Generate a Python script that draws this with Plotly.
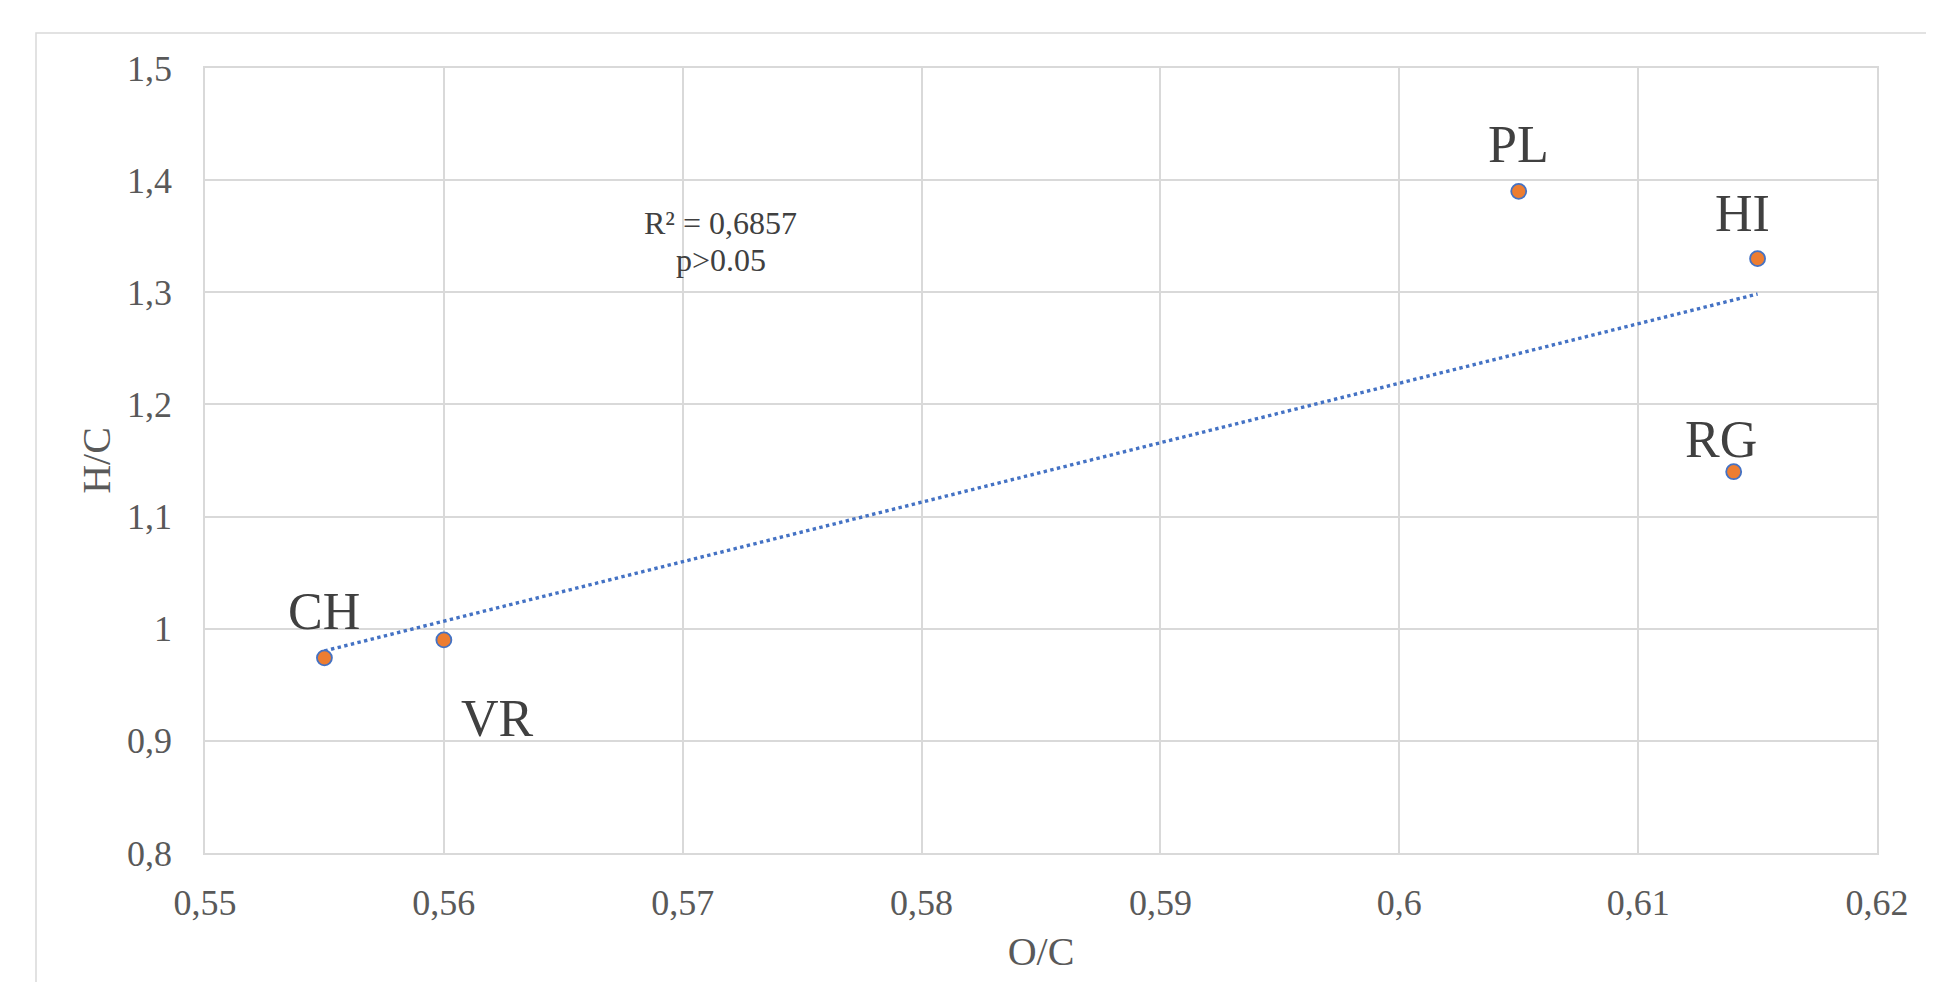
import numpy as np
import plotly.graph_objects as go

sites = ["CH", "VR", "PL", "HI", "RG"]
o_c = [0.555, 0.560, 0.605, 0.615, 0.614]
h_c = [0.974, 0.990, 1.390, 1.330, 1.140]

x_ticks = [0.55, 0.56, 0.57, 0.58, 0.59, 0.60, 0.61, 0.62]
x_tick_text = ["0,55", "0,56", "0,57", "0,58", "0,59", "0,6", "0,61", "0,62"]
y_ticks = [0.8, 0.9, 1.0, 1.1, 1.2, 1.3, 1.4, 1.5]
y_tick_text = ["0,8", "0,9", "1", "1,1", "1,2", "1,3", "1,4", "1,5"]

r2_text = "R² = 0,6857"
p_text = "p&gt;0.05"

# label offsets in pixels (xshift, yshift)
label_shift = {"CH": (0, 46), "VR": (54, -79), "PL": (0, 47), "HI": (-15, 45), "RG": (-13, 32)}

slope, intercept = np.polyfit(o_c, h_c, 1)
tx = np.array([min(o_c), max(o_c)])
ty = slope * tx + intercept

# page body has an 8px default margin, so the figure is drawn 8px in
W, H = 1918, 974
L, R, T, B = 197, 49, 60, 129
pw, ph = W - L - R, H - T - B

fig = go.Figure()
fig.add_trace(go.Scatter(x=tx, y=ty, mode="lines",
                         line=dict(color="#4472C4", width=3.4, dash="dot"),
                         hoverinfo="skip", showlegend=False))
fig.add_trace(go.Scatter(x=o_c, y=h_c, mode="markers", text=sites,
                         marker=dict(size=15, color="#ED7D31",
                                     line=dict(color="#4472C4", width=1.8)),
                         showlegend=False))

serif = "Liberation Serif, Times New Roman, serif"
for s, x, y in zip(sites, o_c, h_c):
    dx, dy = label_shift[s]
    fig.add_annotation(x=x, y=y, text=s, showarrow=False, xshift=dx, yshift=dy,
                       font=dict(family=serif, size=52, color="#404040"))

fig.add_annotation(x=0.5716, y=1.3617, text=r2_text, showarrow=False,
                   font=dict(family=serif, size=32, color="#404040"))
fig.add_annotation(x=0.5716, y=1.3287, text=p_text, showarrow=False,
                   font=dict(family=serif, size=32, color="#404040"))

# outer chart frame
fig.add_shape(type="rect", xref="paper", yref="paper",
              x0=(28 - L) / pw, x1=1.2, y0=-0.5, y1=1 + (T - 25) / ph,
              line=dict(color="#D9D9D9", width=1.5), fillcolor="rgba(0,0,0,0)",
              layer="below")

fig.update_layout(
    width=W, height=H,
    margin=dict(l=L, r=R, t=T, b=B, autoexpand=False),
    paper_bgcolor="white", plot_bgcolor="white",
    font=dict(family=serif, color="#595959"),
    xaxis=dict(range=[0.55, 0.62], tickvals=x_ticks, ticktext=x_tick_text,
               showgrid=True, gridcolor="#D9D9D9", gridwidth=1.5,
               showline=True, linecolor="#D9D9D9", linewidth=1.5, mirror=True,
               zeroline=False, ticks="", ticklabelstandoff=17, automargin=False,
               tickfont=dict(size=36, color="#595959"),
               title=dict(text="O/C", font=dict(size=40, color="#595959"), standoff=15)),
    yaxis=dict(range=[0.8, 1.5], tickvals=y_ticks, ticktext=y_tick_text,
               showgrid=True, gridcolor="#D9D9D9", gridwidth=1.5,
               showline=True, linecolor="#D9D9D9", linewidth=1.5, mirror=True,
               zeroline=False, ticks="", ticklabelstandoff=24, automargin=False,
               tickfont=dict(size=36, color="#595959"),
               title=dict(text="H/C", font=dict(size=40, color="#595959"), standoff=4)),
)

fig.write_html("out.html")
